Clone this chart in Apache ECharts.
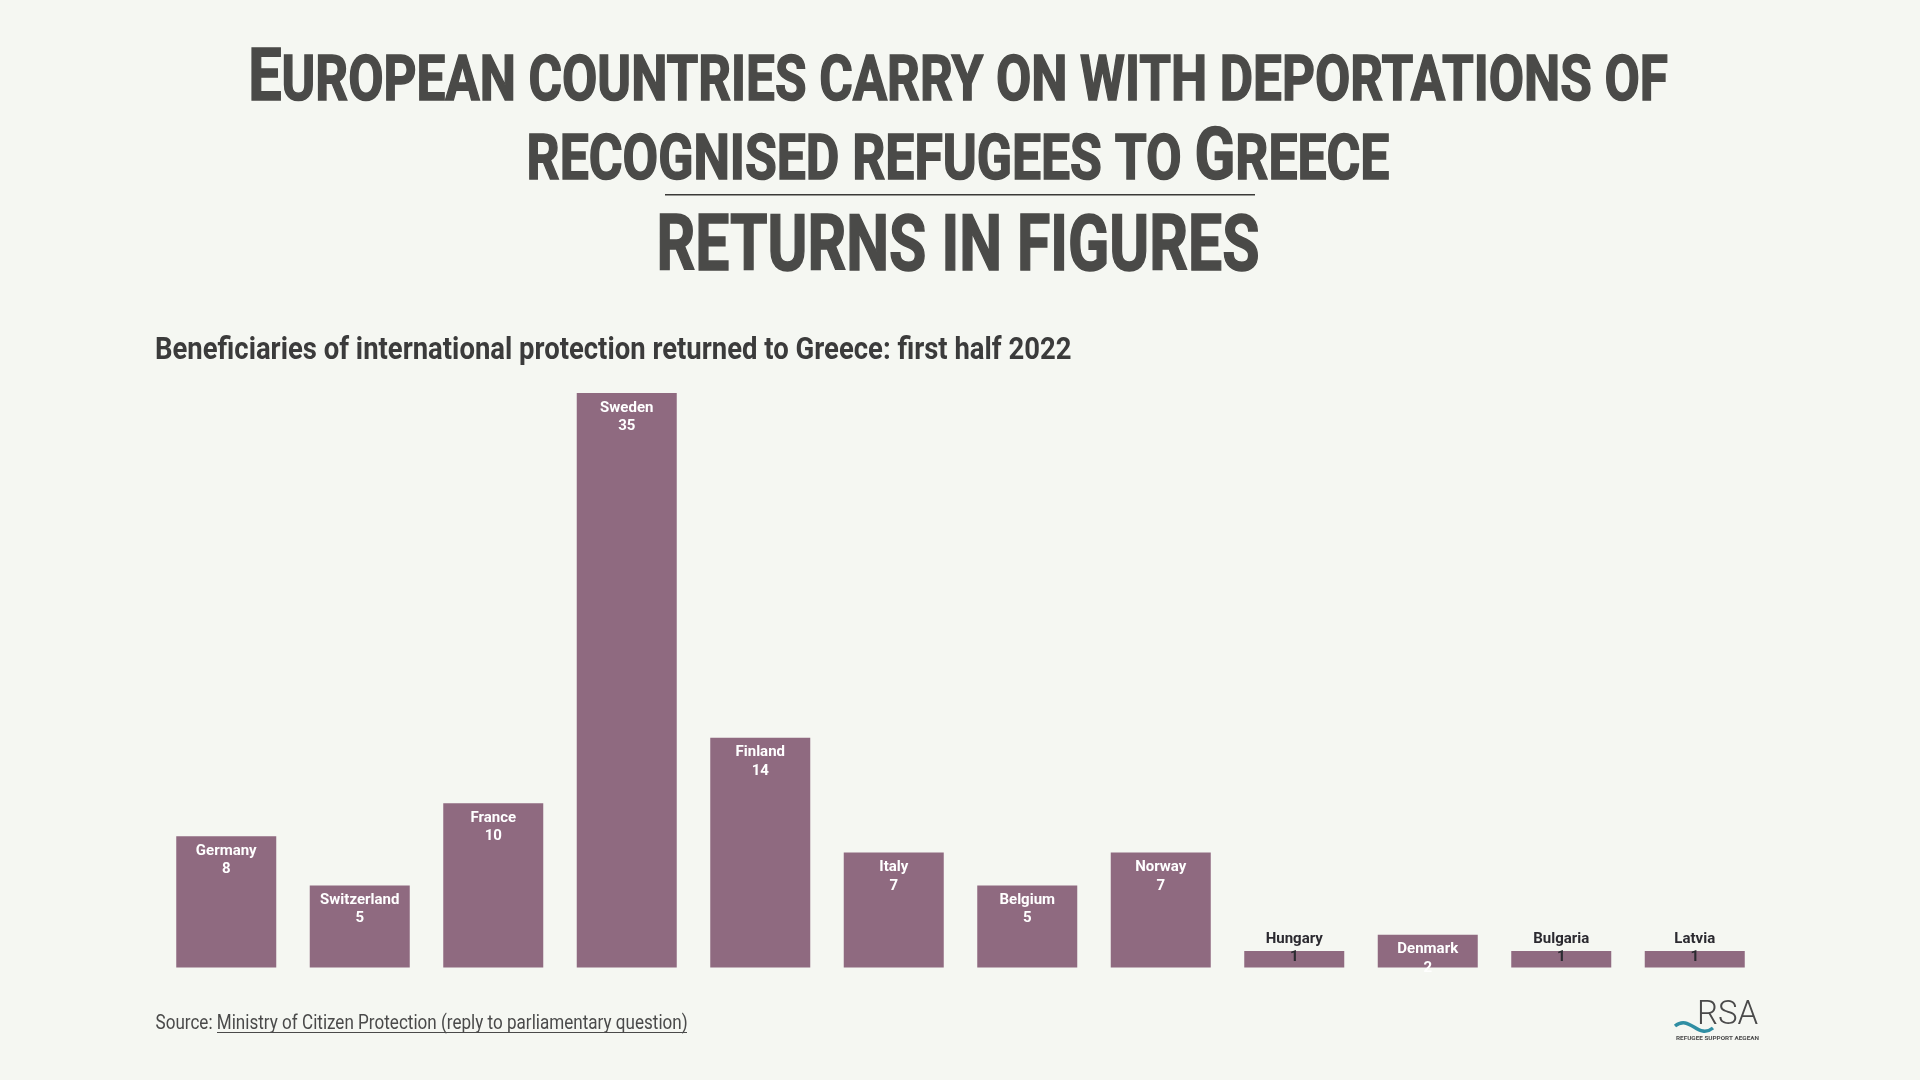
<!DOCTYPE html>
<html>
<head>
<meta charset="utf-8">
<style>
  html, body { margin: 0; padding: 0; background: #f5f7f2; }
  #main { width: 1920px; height: 1080px; }
</style>
<script src="https://cdn.jsdelivr.net/npm/echarts@6/dist/echarts.min.js"></script>
</head>
<body>
<div id="main"></div>
<script>
var categories = ['Germany', 'Switzerland', 'France', 'Sweden', 'Finland', 'Italy', 'Belgium', 'Norway', 'Hungary', 'Denmark', 'Bulgaria', 'Latvia'];
var returns = [8, 5, 10, 35, 14, 7, 5, 7, 1, 2, 1, 1];

var font = 'Roboto, sans-serif';
var titleColor = '#4a4a48';

// bars with 1 return are too short, their label sits half above the bar
var barData = returns.map(function (v) {
  if (v > 1) return v;
  return { value: v, label: { color: '#2b2a30', offset: [0, -27] } };
});

function titleLine(text, y, scaleX, rich) {
  return {
    type: 'text', x: 958, y: y, scaleX: scaleX,
    style: {
      text: text, align: 'center', verticalAlign: 'bottom',
      fill: titleColor, stroke: titleColor, lineWidth: 1.5,
      font: 'bold 63px ' + font, rich: rich
    }
  };
}

var capsRich = {
  b: { font: 'bold 73px ' + font, fill: titleColor, stroke: titleColor, lineWidth: 1.5, verticalAlign: 'bottom' },
  s: { font: 'bold 63px ' + font, fill: titleColor, stroke: titleColor, lineWidth: 1.5, verticalAlign: 'bottom', padding: [0, 0, 2, 0] }
};

var chart = echarts.init(document.getElementById('main'));
chart.setOption({
  backgroundColor: '#f5f7f2',
  animation: false,
  grid: { left: 159.5, right: 158.5, top: 393, bottom: 112.5 },
  xAxis: { type: 'category', data: categories, show: false },
  yAxis: { type: 'value', min: 0, max: 35, show: false },
  series: [{
    type: 'bar',
    data: barData,
    barWidth: 100,
    itemStyle: { color: '#8f6a80' },
    label: {
      show: true,
      position: 'insideTop',
      distance: 5.5,
      color: '#ffffff',
      fontFamily: font,
      fontWeight: 'bold',
      fontSize: 15,
      lineHeight: 18.5,
      formatter: function (p) { return p.name + '\n' + p.value; }
    }
  }],
  graphic: [
    titleLine('{b|E}{s|UROPEAN COUNTRIES CARRY ON WITH DEPORTATIONS OF}', 118, 0.813, capsRich),
    titleLine('{s|RECOGNISED REFUGEES TO }{b|G}{s|REECE}', 197, 0.82, capsRich),
    { type: 'rect', shape: { x: 665, y: 194, width: 590, height: 1.6 }, style: { fill: '#3a3a38' } },
    {
      type: 'text', x: 958, y: 289, scaleX: 0.787,
      style: { text: 'RETURNS IN FIGURES', align: 'center', verticalAlign: 'bottom', fill: titleColor, stroke: titleColor, lineWidth: 1.5, font: 'bold 77px ' + font }
    },
    {
      type: 'text', x: 155, y: 351.5, scaleX: 0.886,
      style: { text: 'Beneficiaries of international protection returned to Greece: first half 2022', verticalAlign: 'middle', fill: '#3b3b3b', font: 'bold 31px ' + font }
    },
    {
      type: 'text', x: 155.5, y: 1024, scaleX: 0.854,
      style: { text: 'Source: Ministry of Citizen Protection (reply to parliamentary question)', verticalAlign: 'middle', fill: '#4a4a4a', font: '20px ' + font }
    },
    { type: 'rect', shape: { x: 217, y: 1032, width: 470, height: 1 }, style: { fill: '#4a4a4a' } },
    // RSA logo
    {
      type: 'text', x: 1697, y: 1015.5,
      style: { text: 'RSA', verticalAlign: 'middle', fill: '#4a4a4a', font: '300 33px ' + font }
    },
    {
      type: 'bezierCurve',
      shape: { x1: 1675, y1: 1026, cpx1: 1690, cpy1: 1014, cpx2: 1698, cpy2: 1040, x2: 1713, y2: 1028 },
      style: { fill: null, stroke: '#2f8ea3', lineWidth: 3.5 }
    },
    {
      type: 'text', x: 1676, y: 1038, scaleX: 1.06,
      style: { text: 'REFUGEE SUPPORT AEGEAN', verticalAlign: 'middle', fill: '#4a4a4a', font: 'bold 6px ' + font }
    }
  ]
});
</script>
</body>
</html>
